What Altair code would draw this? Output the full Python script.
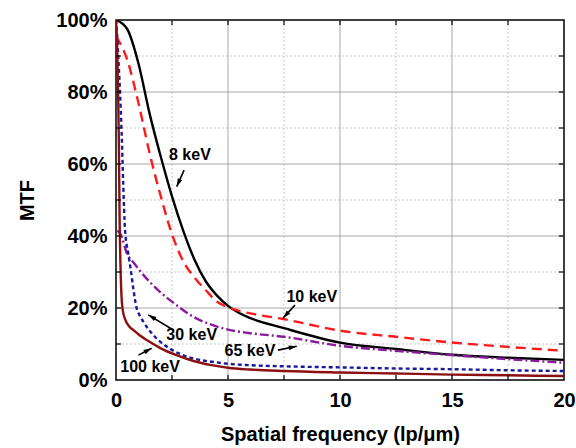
import math
import altair as alt
import pandas as pd

# ---------------- data ----------------
f_8kev = [0, 0.5, 1.0, 1.5, 2.0, 2.5, 3.0, 3.5, 4.0, 4.5, 5.0, 5.5, 6.0, 7.5, 10, 12.5, 15, 17.5, 20]
m_8kev = [100, 97.5, 88, 74, 62, 51, 41.5, 33.5, 27.5, 23.5, 20.6, 18.6, 17.2, 14.4, 10.4, 8.6, 7.0, 6.2, 5.6]

f_10kev = [0, 0.5, 1.0, 1.5, 2.0, 2.5, 3.0, 3.5, 4.0, 4.5, 5.0, 5.5, 6.0, 7.5, 10, 12.5, 15, 17.5, 20]
m_10kev = [95.5, 89, 77, 63, 51, 40.5, 33, 28.5, 25, 21.8, 20.2, 19.2, 18.5, 16.9, 13.7, 12.0, 10.4, 9.2, 8.1]

f_30kev = [0, 0.05, 0.1, 0.18, 0.25, 0.32, 0.4, 0.55, 0.65, 0.77, 0.92, 1.05, 1.22, 1.66, 2.26, 2.8, 3.44, 4.48, 5.0, 6.0, 7.5, 10, 12.5, 15, 17.5, 20]
m_30kev = [100, 96, 90, 80, 69, 55, 42, 35, 31, 25.5, 20, 18, 16.2, 12.5, 9.3, 7.4, 6.0, 4.9, 4.5, 4.1, 3.8, 3.5, 3.2, 3.0, 2.7, 2.5]

f_65kev = [0.05, 0.2, 0.5, 0.8, 1.22, 1.96, 2.7, 3.44, 4.19, 5.0, 6.0, 7.5, 10, 12.5, 15, 17.5, 20]
m_65kev = [41.5, 40.5, 35, 32.5, 29.2, 24.5, 20.8, 17.6, 15.5, 14.0, 13.0, 12.0, 9.5, 8.1, 6.9, 5.8, 4.8]

f_100kev = [0, 0.05, 0.1, 0.13, 0.16, 0.2, 0.24, 0.3, 0.4, 0.6, 0.77, 1.0, 1.5, 2.0, 2.7, 3.5, 4.2, 5.0, 6.0, 7.5, 10, 12.5, 15, 17.5, 20]
m_100kev = [100, 93, 78, 65, 45, 32, 24, 19.5, 17, 14.8, 13.9, 12.7, 10.6, 8.8, 6.9, 5.2, 4.2, 3.4, 2.9, 2.5, 2.1, 1.8, 1.5, 1.3, 1.1]

x_ticks = [0, 5, 10, 15, 20]
y_ticks = [0, 20, 40, 60, 80, 100]
x_major_grid = [5, 10, 15]
x_minor_grid = [2.5, 7.5, 12.5, 17.5]
y_major_grid = [20, 40, 60, 80]
y_minor_grid = [10, 30, 50, 70, 90]
x_inner_ticks = [2.5, 5, 7.5, 10, 12.5, 15, 17.5]
y_inner_ticks = [10, 20, 30, 40, 50, 60, 70, 80, 90]

label_text = ["8 keV", "10 keV", "30 keV", "65 keV", "100 keV"]
label_f = [3.3, 8.74, 3.38, 5.98, 1.52]
label_m = [62.5, 23.1, 12.5, 8.1, 3.7]
arrow_tail_f = [3.04, 7.99, 2.56, 7.23, 1.0]
arrow_tail_m = [58.3, 20.8, 13.9, 8.3, 6.9]
arrow_tip_f = [2.71, 7.46, 1.44, 8.07, 1.59]
arrow_tip_m = [53.7, 17.2, 18.1, 9.4, 8.8]

# ---------------- layout ----------------
W, H = 448, 360
FONT = "Liberation Sans"
xs = alt.Scale(domain=[0, 20], nice=False, zero=False)
ys = alt.Scale(domain=[0, 100], nice=False, zero=False)

X_AX = alt.Axis(values=x_ticks, format="d", grid=False, ticks=False, domain=False,
                labelFont=FONT, labelFontSize=20, labelFontWeight="bold",
                labelColor="black", labelPadding=10, labelFlush=False,
                labelOverlap=False, titleFont=FONT, titleFontSize=20,
                titleFontWeight="bold", titleColor="black", titlePadding=14)
Y_AX = alt.Axis(values=y_ticks, labelExpr="datum.value + '%'", grid=False,
                ticks=False, domain=False, labelFont=FONT, labelFontSize=20,
                labelFontWeight="bold", labelColor="black", labelPadding=9,
                labelFlush=False, labelOverlap=False, titleFont=FONT,
                titleFontSize=20, titleFontWeight="bold", titleColor="black",
                titlePadding=18)
XT = "Spatial frequency (lp/μm)"
YT = "MTF"

def X(field):
    return alt.X(field, scale=xs, axis=X_AX, title=XT)

def Y(field):
    return alt.Y(field, scale=ys, axis=Y_AX, title=YT)

def curve(fs, ms, color, dash=None, width=2.4):
    df = pd.DataFrame({"f": fs, "m": ms})
    kw = dict(color=color, strokeWidth=width, interpolate="monotone", clip=True)
    if dash:
        kw["strokeDash"] = dash
    return alt.Chart(df).mark_line(**kw).encode(x=X("f:Q"), y=Y("m:Q"))

def vrules(vals, **style):
    return alt.Chart(pd.DataFrame({"v": vals})).mark_rule(**style).encode(x=X("v:Q"))

def hrules(vals, **style):
    return alt.Chart(pd.DataFrame({"v": vals})).mark_rule(**style).encode(y=Y("v:Q"))

minor = dict(color="#c8c8c8", strokeWidth=1, strokeDash=[2, 2])
major = dict(color="#a8a8a8", strokeWidth=1)

grid = (vrules(x_minor_grid, **minor) + hrules(y_minor_grid, **minor)
        + vrules(x_major_grid, **major) + hrules(y_major_grid, **major))

curves = (
    curve(f_8kev, m_8kev, "#000000")
    + curve(f_10kev, m_10kev, "#ff1a1a", dash=[10, 6])
    + curve(f_65kev, m_65kev, "#8a1a9e", dash=[9, 3, 2, 3])
    + curve(f_30kev, m_30kev, "#1a1a9c", dash=[4, 3])
    + curve(f_100kev, m_100kev, "#8b1010")
)

# inner tick marks
tick_style = dict(color="black", strokeWidth=1.2)
ticks = (
    alt.Chart(pd.DataFrame({"v": x_inner_ticks})).mark_rule(**tick_style).encode(
        x=X("v:Q"), y=alt.value(H), y2=alt.value(H - 5))
    + alt.Chart(pd.DataFrame({"v": x_inner_ticks})).mark_rule(**tick_style).encode(
        x=X("v:Q"), y=alt.value(0), y2=alt.value(5))
    + alt.Chart(pd.DataFrame({"v": y_inner_ticks})).mark_rule(**tick_style).encode(
        y=Y("v:Q"), x=alt.value(0), x2=alt.value(5))
    + alt.Chart(pd.DataFrame({"v": y_inner_ticks})).mark_rule(**tick_style).encode(
        y=Y("v:Q"), x=alt.value(W), x2=alt.value(W - 5))
)

# annotations
angles = []
for tf, tm, hf, hm in zip(arrow_tail_f, arrow_tail_m, arrow_tip_f, arrow_tip_m):
    dx = (hf - tf) * W / 20.0
    dy = -(hm - tm) * H / 100.0
    angles.append(math.degrees(math.atan2(dx, -dy)) % 360)

arr_df = pd.DataFrame({"tf": arrow_tail_f, "tm": arrow_tail_m,
                       "hf": arrow_tip_f, "hm": arrow_tip_m, "ang": angles})
shafts = alt.Chart(arr_df).mark_rule(color="black", strokeWidth=1.6).encode(
    x=X("tf:Q"), y=Y("tm:Q"), x2="hf:Q", y2="hm:Q")
heads = alt.Chart(arr_df).mark_point(
    shape="M0,0L-0.5,1.7L0.5,1.7Z", filled=True, color="black", opacity=1, size=90
).encode(x=X("hf:Q"), y=Y("hm:Q"), angle=alt.Angle("ang:Q", scale=None))

lab_df = pd.DataFrame({"t": label_text, "f": label_f, "m": label_m})
labels = alt.Chart(lab_df).mark_text(
    font=FONT, fontSize=16, fontWeight="bold", color="black", align="center", baseline="middle"
).encode(x=X("f:Q"), y=Y("m:Q"), text="t:N")

chart = alt.layer(grid, curves, ticks, shafts, heads, labels).properties(
    width=W, height=H,
    autosize=alt.AutoSizeParams(type="none"),
    padding={"left": 116, "top": 20, "right": 12, "bottom": 68},
    background="white",
).configure_view(stroke="black", strokeWidth=1.5)

chart.save("out.html", embed_options={"renderer": "svg", "actions": False})
